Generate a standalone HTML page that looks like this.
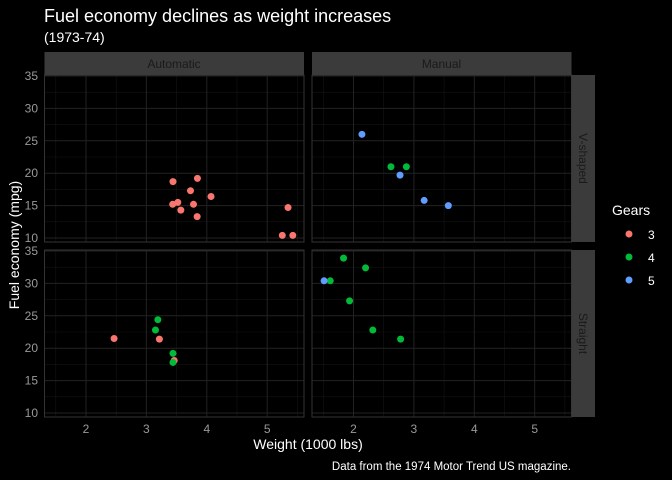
<!DOCTYPE html>
<html><head><meta charset="utf-8"><style>
body{margin:0;background:#000;}
svg{display:block;font-family:"Liberation Sans",sans-serif;}
</style></head><body>
<svg id="s" width="672" height="480" xmlns="http://www.w3.org/2000/svg">
<rect width="672" height="480" fill="#000"/>
<text x="44" y="22" fill="#fff" font-size="18">Fuel economy declines as weight increases</text>
<text x="44" y="42" fill="#fff" font-size="14">(1973-74)</text>
<g id="panels"></g>
<text transform="translate(19,245) rotate(-90)" text-anchor="middle" fill="#fff" font-size="14">Fuel economy (mpg)</text>
<text x="308" y="449" text-anchor="middle" fill="#fff" font-size="14">Weight (1000 lbs)</text>
<text x="571" y="470" text-anchor="end" fill="#fff" font-size="11.5">Data from the 1974 Motor Trend US magazine.</text>
<text x="612" y="215" fill="#fff" font-size="14">Gears</text>
<circle cx="629" cy="234" r="3.5" fill="#F8766D"/><text x="648" y="239" fill="#fff" font-size="12">3</text>
<circle cx="629" cy="257" r="3.5" fill="#00BA38"/><text x="648" y="262" fill="#fff" font-size="12">4</text>
<circle cx="629" cy="280" r="3.5" fill="#619CFF"/><text x="648" y="285" fill="#fff" font-size="12">5</text>
</svg>
<script>
var NS="http://www.w3.org/2000/svg",g=document.getElementById("panels");
function el(t,a,txt){var e=document.createElementNS(NS,t);for(var k in a)e.setAttribute(k,a[k]);if(txt!=null)e.textContent=txt;g.appendChild(e);return e;}
var px=[44.5,312],py=[75,250],W=259.5,H=167;
function X(p,wt){return px[p]+41.5+(wt-2)*60.4;}
function Y(q,m){return py[q]+1+(35-m)*6.48;}
for(var p=0;p<2;p++)for(var q=0;q<2;q++){
 el("rect",{x:px[p],y:py[q],width:W,height:H,fill:"#000"});
 for(var v=1.5;v<=5.5;v+=1)el("line",{x1:X(p,v),x2:X(p,v),y1:py[q],y2:py[q]+H,stroke:"#141414","stroke-width":0.6});
 for(var m=12.5;m<=32.5;m+=5)el("line",{y1:Y(q,m),y2:Y(q,m),x1:px[p],x2:px[p]+W,stroke:"#141414","stroke-width":0.6});
 for(var v=2;v<=5;v++)el("line",{x1:X(p,v),x2:X(p,v),y1:py[q],y2:py[q]+H,stroke:"#222","stroke-width":1});
 for(var m=10;m<=35;m+=5)el("line",{y1:Y(q,m),y2:Y(q,m),x1:px[p],x2:px[p]+W,stroke:"#222","stroke-width":1});
 el("rect",{x:px[p],y:py[q],width:W,height:H,fill:"none",stroke:"#333","stroke-width":1});
}
el("rect",{x:44.5,y:52,width:W,height:23,fill:"#3b3b3b"});
el("rect",{x:312,y:52,width:W,height:23,fill:"#3b3b3b"});
el("text",{x:174,y:68,"text-anchor":"middle",fill:"#1a1a1a","font-size":12},"Automatic");
el("text",{x:441.5,y:68,"text-anchor":"middle",fill:"#1a1a1a","font-size":12},"Manual");
el("rect",{x:571.5,y:75,width:23.5,height:H,fill:"#3b3b3b"});
el("rect",{x:571.5,y:250,width:23.5,height:H,fill:"#3b3b3b"});
el("text",{transform:"translate(579,158.5) rotate(90)","text-anchor":"middle",fill:"#1a1a1a","font-size":12},"V-shaped");
el("text",{transform:"translate(579,333.5) rotate(90)","text-anchor":"middle",fill:"#1a1a1a","font-size":12},"Straight");
for(var q=0;q<2;q++)for(var m=10;m<=35;m+=5)el("text",{x:38,y:Y(q,m)+4,"text-anchor":"end",fill:"#999","font-size":12},m);
for(var p=0;p<2;p++)for(var v=2;v<=5;v++)el("text",{x:X(p,v),y:433,"text-anchor":"middle",fill:"#999","font-size":12},v);
var d=[[21,2.62,0,1,4],[21,2.875,0,1,4],[22.8,2.32,1,1,4],[21.4,3.215,1,0,3],[18.7,3.44,0,0,3],[18.1,3.46,1,0,3],[14.3,3.57,0,0,3],[24.4,3.19,1,0,4],[22.8,3.15,1,0,4],[19.2,3.44,1,0,4],[17.8,3.44,1,0,4],[16.4,4.07,0,0,3],[17.3,3.73,0,0,3],[15.2,3.78,0,0,3],[10.4,5.25,0,0,3],[10.4,5.424,0,0,3],[14.7,5.345,0,0,3],[32.4,2.2,1,1,4],[30.4,1.615,1,1,4],[33.9,1.835,1,1,4],[21.5,2.465,1,0,3],[15.5,3.52,0,0,3],[15.2,3.435,0,0,3],[13.3,3.84,0,0,3],[19.2,3.845,0,0,3],[27.3,1.935,1,1,4],[26,2.14,0,1,5],[30.4,1.513,1,1,5],[15.8,3.17,0,1,5],[19.7,2.77,0,1,5],[15,3.57,0,1,5],[21.4,2.78,1,1,4]];
var c={3:"#F8766D",4:"#00BA38",5:"#619CFF"};
d.forEach(function(r){el("circle",{cx:X(r[3],r[1]),cy:Y(r[2],r[0]),r:3.5,fill:c[r[4]]});});
</script>
</body></html>
